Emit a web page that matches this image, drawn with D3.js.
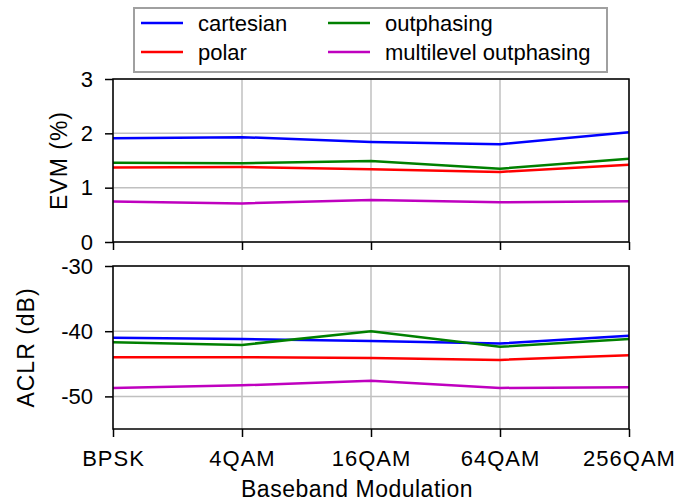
<!DOCTYPE html>
<html><head><meta charset="utf-8">
<script src="https://cdn.jsdelivr.net/npm/d3@7"></script>
<style>body{margin:0;background:#fff}svg{display:block;font-family:"Liberation Sans",Arial,sans-serif}</style>
</head><body><svg id="c" width="699" height="502"></svg>
<script>
const categories = ["BPSK","4QAM","16QAM","64QAM","256QAM"];
const seriesNames = ["cartesian","polar","outphasing","multilevel outphasing"];
const seriesColors = ["#0000ff","#ff0000","#008000","#bf00bf"];
const evmCartesian = [1.91,1.93,1.84,1.80,2.02];
const evmPolar = [1.37,1.38,1.34,1.29,1.42];
const evmOutphasing = [1.46,1.45,1.49,1.35,1.53];
const evmMultilevel = [0.745,0.71,0.775,0.73,0.75];
const aclrCartesian = [-41.0,-41.2,-41.5,-41.9,-40.7];
const aclrPolar = [-44.0,-44.0,-44.1,-44.4,-43.7];
const aclrOutphasing = [-41.7,-42.1,-40.0,-42.4,-41.2];
const aclrMultilevel = [-48.7,-48.3,-47.6,-48.7,-48.6];
const evmTicks = [0,1,2,3];
const aclrTicks = [-50,-40,-30];

const FONT = "Liberation Sans, Arial, sans-serif";
const svg = d3.select("#c");
const x = d3.scalePoint().domain(categories).range([113,629]);
const panels = [
  {data:[evmCartesian,evmPolar,evmOutphasing,evmMultilevel], domain:[0,3], range:[242,79], ticks:evmTicks, label:"EVM (%)", labelX:67, showX:false},
  {data:[aclrCartesian,aclrPolar,aclrOutphasing,aclrMultilevel], domain:[-55,-30], range:[429,266], ticks:aclrTicks, label:"ACLR (dB)", labelX:34, showX:true}
];
panels.forEach(p=>{
  const y = d3.scaleLinear().domain(p.domain).range(p.range);
  const g = svg.append("g");
  g.selectAll(".gx").data(categories).enter().append("line")
    .attr("x1",d=>x(d)).attr("x2",d=>x(d)).attr("y1",p.range[0]).attr("y2",p.range[1])
    .attr("stroke","#c0c0c0").attr("stroke-width",1.5);
  g.selectAll(".gy").data(p.ticks).enter().append("line")
    .attr("x1",113).attr("x2",629).attr("y1",d=>y(d)).attr("y2",d=>y(d))
    .attr("stroke","#c0c0c0").attr("stroke-width",1.5);
  const line = d3.line().x((d,i)=>x(categories[i])).y(d=>y(d));
  p.data.forEach((s,i)=>{
    g.append("path").attr("d",line(s)).attr("fill","none")
      .attr("stroke",seriesColors[i]).attr("stroke-width",2.5);
  });
  g.append("rect").attr("x",113).attr("y",p.range[1]).attr("width",516).attr("height",p.range[0]-p.range[1])
    .attr("fill","none").attr("stroke","#000").attr("stroke-width",1.5);
  const ya = g.append("g").attr("transform","translate(113,0)")
    .call(d3.axisLeft(y).tickValues(p.ticks).tickSize(8).tickPadding(12).tickFormat(d=>String(d)));
  ya.select(".domain").remove();
  ya.selectAll("line").attr("stroke-width",1.5);
  ya.selectAll("text").attr("font-size",22).attr("fill","#000").attr("font-family",FONT);
  const xa = g.append("g").attr("transform",`translate(0,${p.range[0]})`)
    .call(d3.axisBottom(x).tickSize(8).tickPadding(13).tickFormat(p.showX?(d=>d):(()=>"")));
  xa.select(".domain").remove();
  xa.selectAll("line").attr("stroke-width",1.5);
  xa.selectAll("text").attr("font-size",22).attr("fill","#000").attr("font-family",FONT).attr("letter-spacing",1);
  g.append("text").attr("transform",`translate(${p.labelX},${(p.range[0]+p.range[1])/2}) rotate(-90)`)
    .attr("text-anchor","middle").attr("font-size",23).attr("letter-spacing",1).text(p.label);
});
svg.append("text").attr("x",357).attr("y",497).attr("text-anchor","middle").attr("font-size",23).attr("letter-spacing",0.5).text("Baseband Modulation");

const lg = svg.append("g");
lg.append("rect").attr("x",134).attr("y",8).attr("width",473).attr("height",64).attr("fill","#fff").attr("stroke","#a0a0a0").attr("stroke-width",2);
const pos = [[141,23],[141,52],[328,23],[328,52]];
seriesNames.forEach((n,i)=>{
  lg.append("line").attr("x1",pos[i][0]).attr("x2",pos[i][0]+42).attr("y1",pos[i][1]).attr("y2",pos[i][1])
    .attr("stroke",seriesColors[i]).attr("stroke-width",2.5);
  lg.append("text").attr("x",pos[i][0]+57).attr("y",pos[i][1]+8).attr("font-size",22).text(n);
});
</script></body></html>
